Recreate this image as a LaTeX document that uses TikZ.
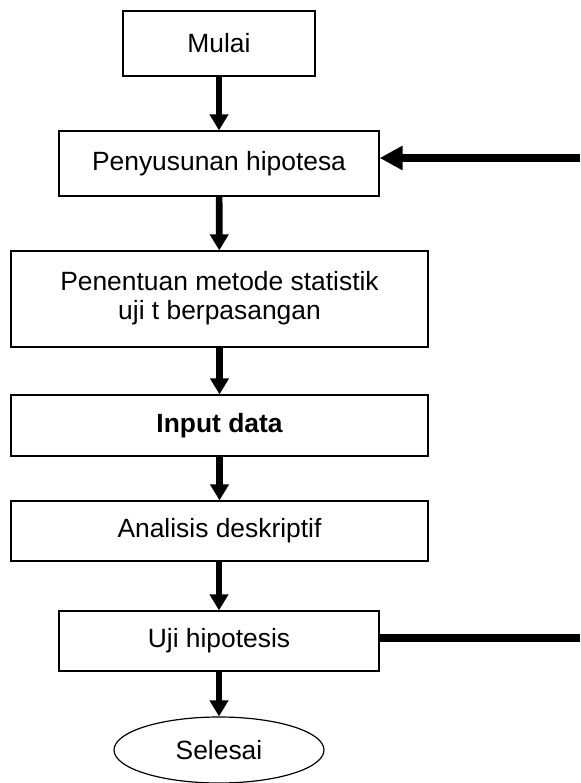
\documentclass[tikz,border=0pt]{standalone}
\usepackage{fontspec}
\setmainfont{Liberation Sans}
\usetikzlibrary{arrows.meta,shapes.geometric}

\begin{document}
\begin{tikzpicture}[x=1pt,y=-1pt,
    kotak/.style={rectangle,draw,line width=1.2pt,align=center,inner sep=0pt,
      font=\fontsize{26.4}{29}\selectfont},
    alur/.style={line width=6.7pt,-{Triangle[length=16pt,width=18pt]}},
    balik/.style={line width=7.5pt}]
      \useasboundingbox (0,0) rectangle (580,783);
      \node[kotak,minimum width=192pt,minimum height=65pt] (mulai) at (219,43.5) {Mulai};
      \node[kotak,minimum width=320pt,minimum height=65pt] (hipotesa) at (219,163.5) {Penyusunan hipotesa};
      \node[kotak,minimum width=417pt,minimum height=96pt] (metode) at (219.5,299) {Penentuan metode statistik\\uji t berpasangan\\[-22pt]};
      \node[kotak,minimum width=417pt,minimum height=61pt] (input) at (219.5,425.5) {\bfseries Input data};
      \node[kotak,minimum width=417pt,minimum height=60pt] (analisis) at (219.5,531) {Analisis deskriptif};
      \node[kotak,minimum width=320pt,minimum height=60pt] (uji) at (219,641) {Uji hipotesis};
      \node[kotak,ellipse,minimum width=210pt,minimum height=66pt] (selesai) at (219,750) {Selesai};
      \coordinate (ujikanan) at (580,638);
      \coordinate (hipkanan) at (580,158);

      \draw[alur] (mulai) -- (hipotesa);
      \draw[alur] (hipotesa) -- (metode);
      \draw[alur] (metode.south -| input.north) -- (input);
      \draw[alur] (input) -- (analisis);
      \draw[alur] (analisis.south -| uji.north) -- (uji);
      \draw[alur] (uji) -- (selesai);
      \draw[balik] (uji.east |- ujikanan) -- (ujikanan);
      \draw[balik,-{Triangle[length=23pt,width=23pt]}] (hipkanan) -- (hipotesa.east |- hipkanan);
    \end{tikzpicture}
\end{document}
